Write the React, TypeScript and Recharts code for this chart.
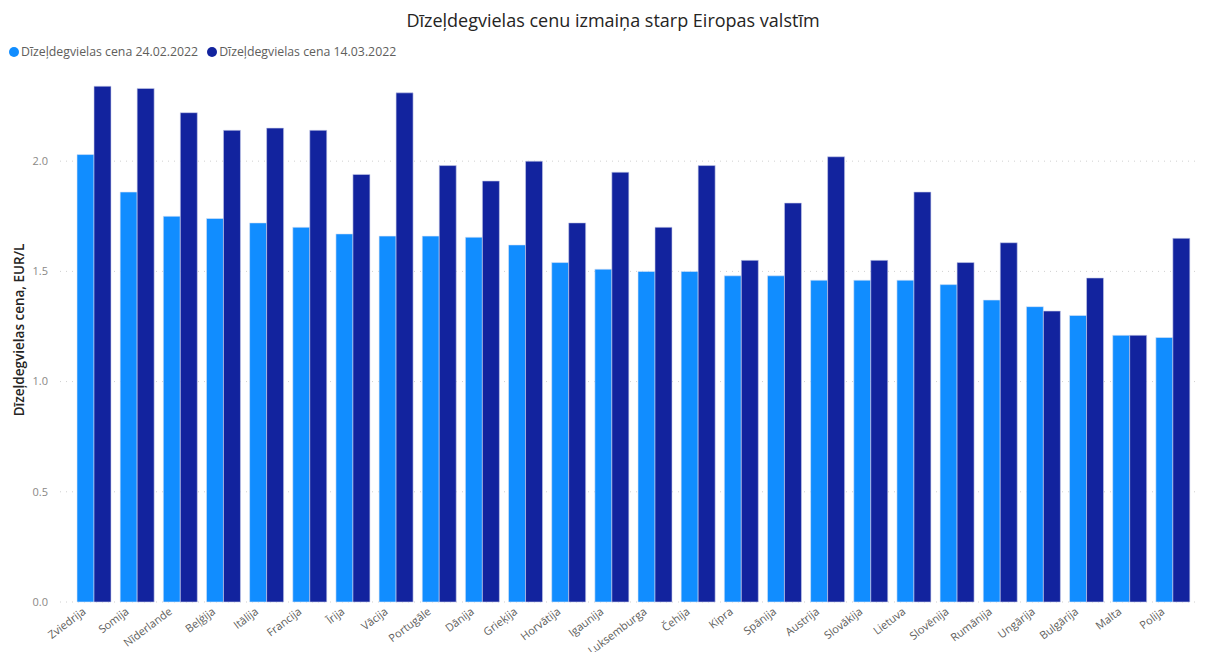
import React from "react";
import { BarChart, Bar, XAxis, YAxis, CartesianGrid } from "recharts";

const countries = [
  "Zviedrija", "Somija", "Nīderlande", "Beļģija", "Itālija", "Francija", "Īrija", "Vācija",
  "Portugāle", "Dānija", "Grieķija", "Horvātija", "Igaunija", "Luksemburga", "Čehija", "Kipra",
  "Spānija", "Austrija", "Slovākija", "Lietuva", "Slovēnija", "Rumānija", "Ungārija", "Bulgārija",
  "Malta", "Polija",
];
const price240222 = [
  2.03, 1.86, 1.75, 1.74, 1.72, 1.70, 1.67, 1.66, 1.66, 1.655, 1.62, 1.54, 1.51, 1.50, 1.50, 1.48,
  1.48, 1.46, 1.46, 1.46, 1.44, 1.37, 1.34, 1.30, 1.21, 1.20,
];
const price140322 = [
  2.34, 2.33, 2.22, 2.14, 2.15, 2.14, 1.94, 2.31, 1.98, 1.91, 2.00, 1.72, 1.95, 1.70, 1.98, 1.55,
  1.81, 2.02, 1.55, 1.86, 1.54, 1.63, 1.32, 1.47, 1.21, 1.65,
];
const yTicks = [0, 0.5, 1.0, 1.5, 2.0];
const seriesNames = ["Dīzeļdegvielas cena 24.02.2022", "Dīzeļdegvielas cena 14.03.2022"];
const colors = ["#118DFF", "#12239E"];
const title = "Dīzeļdegvielas cenu izmaiņa starp Eiropas valstīm";
const yLabel = "Dīzeļdegvielas cena, EUR/L";

const data = countries.map((c, i) => ({ country: c, a: price240222[i], b: price140322[i] }));

const FONT = "'Open Sans', 'Noto Sans', sans-serif";

const XTick = (props: any) => {
  const { x, y, payload } = props;
  return (
    <g transform={`translate(${x - 7},${y + 3})`}>
      <text textAnchor="end" transform="rotate(-37)" fontSize={11} fill="#605E5C" fontFamily={FONT}>
        {payload.value}
      </text>
    </g>
  );
};

export default function App() {
  return (
    <div style={{ position: "absolute", left: 0, top: 0, width: 1205, height: 652, background: "#fff" }}>
      <div
        style={{
          position: "absolute", left: 0, top: 7, width: 1226, textAlign: "center",
          fontFamily: FONT, fontSize: 18, color: "#252423", lineHeight: "26px",
        }}
      >
        {title}
      </div>
      <div
        style={{
          position: "absolute", left: 9, top: 43, display: "flex", alignItems: "center",
          fontFamily: FONT, fontSize: 12.3, color: "#605E5C",
        }}
      >
        {seriesNames.map((n, i) => (
          <span key={n} style={{ display: "flex", alignItems: "center", marginRight: 9 }}>
            <span style={{ width: 10, height: 10, borderRadius: 5, background: colors[i], display: "inline-block", marginRight: 2 }} />
            {n}
          </span>
        ))}
      </div>
      <BarChart
        width={1205}
        height={652}
        data={data}
        margin={{ top: 73, right: 5, bottom: 0, left: 0 }}
        barGap={0}
        barSize={17}
      >
        <CartesianGrid vertical={false} horizontalValues={yTicks} stroke="#D0D0D0" strokeDasharray="1 5" />
        <XAxis
          dataKey="country"
          interval={0}
          height={50}
          tick={<XTick />}
          tickLine={false}
          axisLine={false}
          padding={{ left: 12, right: 6 }}
        />
        <YAxis
          width={60}
          domain={[0, 2.4]}
          ticks={yTicks}
          tickFormatter={(v: number) => v.toFixed(1)}
          tickLine={false}
          axisLine={false}
          tickSize={0}
          tickMargin={12}
          tick={{ fontSize: 11, fill: "#8A8886", fontFamily: FONT }}
          label={{
            content: () => (
              <text
                x={19}
                y={330}
                transform="rotate(-90,19,330)"
                textAnchor="middle"
                dominantBaseline="central"
                fontFamily={FONT}
                fontSize={13.5}
                fontWeight={600}
                fill="#252423"
              >
                {yLabel}
              </text>
            ),
          }}
        />
        <Bar dataKey="a" name={seriesNames[0]} fill={colors[0]} stroke="#DCE4F5" strokeWidth={0.6} isAnimationActive={false} />
        <Bar dataKey="b" name={seriesNames[1]} fill={colors[1]} stroke="#C9CEEA" strokeWidth={0.6} isAnimationActive={false} />
      </BarChart>
    </div>
  );
}
